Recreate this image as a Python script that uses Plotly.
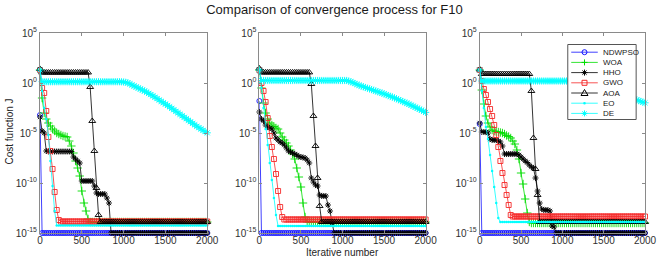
import plotly.graph_objects as go

# ---------------- data (log10 of best cost, sampled every 25 iterations) ----------------
ITERATIONS = list(range(0, 2001, 25))
ALGORITHMS = ["NDWPSO", "WOA", "HHO", "GWO", "AOA", "EO", "DE"]
X_TICKS = [0, 500, 1000, 1500, 2000]
Y_TICK_EXPONENTS = [-15, -10, -5, 0, 5]
Y_TICK_TEXT = ["10<sup>-15</sup>", "10<sup>-10</sup>", "10<sup>-5</sup>", "10<sup>0</sup>", "10<sup>5</sup>"]
TITLE = "Comparison of convergence process for F10"
X_LABEL = "Iterative number"
Y_LABEL = "Cost function J"

# ----- run 1 -----
P1_NDWPSO = [-3.2, -15, -15, -15, -15, -15, -15, -15, -15, -15,
             -15, -15, -15, -15, -15, -15, -15, -15, -15, -15,
             -15, -15, -15, -15, -15, -15, -15, -15, -15, -15,
             -15, -15, -15, -15, -15, -15, -15, -15, -15, -15,
             -15, -15, -15, -15, -15, -15, -15, -15, -15, -15,
             -15, -15, -15, -15, -15, -15, -15, -15, -15, -15,
             -15, -15, -15, -15, -15, -15, -15, -15, -15, -15,
             -15, -15, -15, -15, -15, -15, -15, -15, -15, -15,
             -15]
P1_WOA = [1.3, -1.5, -3.0, -3.6, -4.0, -4.3, -4.6, -4.8, -5.0, -5.1,
          -5.2, -5.3, -5.35, -5.4, -5.8, -6.3, -7.0, -7.8, -8.5, -9.3,
          -10.8, -12.0, -12.8, -13.6, -13.9, -13.9, -13.9, -13.9, -13.9, -13.9,
          -13.9, -13.9, -13.9, -13.9, -13.9, -13.9, -13.9, -13.9, -13.9, -13.9,
          -13.9, -13.9, -13.9, -13.9, -13.9, -13.9, -13.9, -13.9, -13.9, -13.9,
          -13.9, -13.9, -13.9, -13.9, -13.9, -13.9, -13.9, -13.9, -13.9, -13.9,
          -13.9, -13.9, -13.9, -13.9, -13.9, -13.9, -13.9, -13.9, -13.9, -13.9,
          -13.9, -13.9, -13.9, -13.9, -13.9, -13.9, -13.9, -13.9, -13.9, -13.9,
          -13.9]
P1_HHO = [-3.4, -4.8, -5.0, -6.8, -6.85, -6.85, -6.85, -6.85, -6.85, -6.85,
          -6.85, -6.85, -6.85, -6.85, -6.85, -6.85, -7.4, -7.6, -7.8, -8.0,
          -9.8, -9.8, -9.8, -9.8, -9.8, -9.8, -10.3, -11.0, -11.1, -11.1,
          -11.1, -11.1, -11.5, -12.0, -15, -15, -15, -15, -15, -15,
          -15, -15, -15, -15, -15, -15, -15, -15, -15, -15,
          -15, -15, -15, -15, -15, -15, -15, -15, -15, -15,
          -15, -15, -15, -15, -15, -15, -15, -15, -15, -15,
          -15, -15, -15, -15, -15, -15, -15, -15, -15, -15,
          -15]
P1_GWO = [1.3, -0.5, -1.0, -2.8, -5.4, -6.8, -8.6, -10.9, -12.7, -13.7,
          -13.85, -13.85, -13.85, -13.85, -13.85, -13.85, -13.85, -13.85, -13.85, -13.85,
          -13.85, -13.85, -13.85, -13.85, -13.85, -13.85, -13.85, -13.85, -13.85, -13.85,
          -13.85, -13.85, -13.85, -13.85, -13.85, -13.85, -13.85, -13.85, -13.85, -13.85,
          -13.85, -13.85, -13.85, -13.85, -13.85, -13.85, -13.85, -13.85, -13.85, -13.85,
          -13.85, -13.85, -13.85, -13.85, -13.85, -13.85, -13.85, -13.85, -13.85, -13.85,
          -13.85, -13.85, -13.85, -13.85, -13.85, -13.85, -13.85, -13.85, -13.85, -13.85,
          -13.85, -13.85, -13.85, -13.85, -13.85, -13.85, -13.85, -13.85, -13.85, -13.85,
          -13.85]
P1_AOA = [1.4, 1.05, 1.05, 1.05, 1.05, 1.05, 1.05, 1.05, 1.05, 1.05,
          1.05, 1.05, 1.05, 1.05, 1.05, 1.05, 1.05, 1.05, 1.05, 1.05,
          1.05, 1.05, 1.05, 1.05, -0.4, -3.8, -6.8, -10.5, -13.2, -13.9,
          -13.9, -13.9, -13.9, -13.9, -13.9, -13.9, -13.9, -13.9, -13.9, -13.9,
          -13.9, -13.9, -13.9, -13.9, -13.9, -13.9, -13.9, -13.9, -13.9, -13.9,
          -13.9, -13.9, -13.9, -13.9, -13.9, -13.9, -13.9, -13.9, -13.9, -13.9,
          -13.9, -13.9, -13.9, -13.9, -13.9, -13.9, -13.9, -13.9, -13.9, -13.9,
          -13.9, -13.9, -13.9, -13.9, -13.9, -13.9, -13.9, -13.9, -13.9, -13.9,
          -13.9]
P1_EO = [1.3, -0.8, -2.5, -3.6, -5.2, -7.8, -10.3, -12.8, -14.25, -14.25,
         -14.25, -14.25, -14.25, -14.25, -14.25, -14.25, -14.25, -14.25, -14.25, -14.25,
         -14.25, -14.25, -14.25, -14.25, -14.25, -14.25, -14.25, -14.25, -14.25, -14.25,
         -14.25, -14.25, -14.25, -14.25, -14.25, -14.25, -14.25, -14.25, -14.25, -14.25,
         -14.25, -14.25, -14.25, -14.25, -14.25, -14.25, -14.25, -14.25, -14.25, -14.25,
         -14.25, -14.25, -14.25, -14.25, -14.25, -14.25, -14.25, -14.25, -14.25, -14.25,
         -14.25, -14.25, -14.25, -14.25, -14.25, -14.25, -14.25, -14.25, -14.25, -14.25,
         -14.25, -14.25, -14.25, -14.25, -14.25, -14.25, -14.25, -14.25, -14.25, -14.25,
         -14.25]
P1_DE = [1.3, 0.13, 0.13, 0.13, 0.13, 0.13, 0.13, 0.13, 0.13, 0.13,
         0.13, 0.13, 0.13, 0.13, 0.13, 0.13, 0.13, 0.13, 0.13, 0.13,
         0.13, 0.13, 0.13, 0.13, 0.13, 0.13, 0.13, 0.13, 0.13, 0.13,
         0.13, 0.13, 0.13, 0.13, 0.13, 0.13, 0.13, 0.13, 0.13, 0.12,
         0.1, 0.07, 0.02, -0.08, -0.2, -0.3, -0.4, -0.5, -0.6, -0.7,
         -0.8, -0.91, -1.03, -1.16, -1.29, -1.42, -1.56, -1.7, -1.84, -1.98,
         -2.1, -2.24, -2.38, -2.53, -2.68, -2.83, -2.98, -3.13, -3.28, -3.43,
         -3.58, -3.73, -3.88, -4.03, -4.18, -4.33, -4.47, -4.6, -4.73, -4.86,
         -4.98]

# ----- run 2 -----
P2_NDWPSO = [-1.8, -15, -15, -15, -15, -15, -15, -15, -15, -15,
             -15, -15, -15, -15, -15, -15, -15, -15, -15, -15,
             -15, -15, -15, -15, -15, -15, -15, -15, -15, -15,
             -15, -15, -15, -15, -15, -15, -15, -15, -15, -15,
             -15, -15, -15, -15, -15, -15, -15, -15, -15, -15,
             -15, -15, -15, -15, -15, -15, -15, -15, -15, -15,
             -15, -15, -15, -15, -15, -15, -15, -15, -15, -15,
             -15, -15, -15, -15, -15, -15, -15, -15, -15, -15,
             -15]
P2_WOA = [1.3, -0.5, -2.0, -3.0, -3.6, -4.0, -4.2, -4.35, -4.5, -4.6,
          -5.0, -5.4, -5.7, -6.0, -6.3, -6.7, -7.1, -7.6, -8.5, -9.4,
          -10.4, -12.0, -13.4, -13.9, -13.9, -13.9, -13.9, -13.9, -13.9, -13.9,
          -13.9, -13.9, -13.9, -13.9, -13.9, -13.9, -13.9, -13.9, -13.9, -13.9,
          -13.9, -13.9, -13.9, -13.9, -13.9, -13.9, -13.9, -13.9, -13.9, -13.9,
          -13.9, -13.9, -13.9, -13.9, -13.9, -13.9, -13.9, -13.9, -13.9, -13.9,
          -13.9, -13.9, -13.9, -13.9, -13.9, -13.9, -13.9, -13.9, -13.9, -13.9,
          -13.9, -13.9, -13.9, -13.9, -13.9, -13.9, -13.9, -13.9, -13.9, -13.9,
          -13.9]
P2_HHO = [-2.9, -3.6, -3.8, -4.2, -4.4, -4.5, -4.6, -5.0, -5.5, -5.7,
          -5.9, -6.0, -6.2, -6.5, -6.8, -6.9, -7.0, -7.1, -7.2, -7.35,
          -7.4, -7.45, -7.5, -7.7, -8.0, -9.5, -9.9, -10.2, -10.3, -11.2,
          -11.3, -11.3, -11.3, -12.2, -12.8, -14.0, -15, -15, -15, -15,
          -15, -15, -15, -15, -15, -15, -15, -15, -15, -15,
          -15, -15, -15, -15, -15, -15, -15, -15, -15, -15,
          -15, -15, -15, -15, -15, -15, -15, -15, -15, -15,
          -15, -15, -15, -15, -15, -15, -15, -15, -15, -15,
          -15]
P2_GWO = [1.3, 0.0, -0.8, -1.9, -3.5, -5.3, -6.4, -7.6, -9.1, -10.8,
          -12.4, -13.4, -13.65, -13.65, -13.65, -13.65, -13.65, -13.65, -13.65, -13.65,
          -13.65, -13.65, -13.65, -13.65, -13.65, -13.65, -13.65, -13.65, -13.65, -13.65,
          -13.65, -13.65, -13.65, -13.65, -13.65, -13.65, -13.65, -13.65, -13.65, -13.65,
          -13.65, -13.65, -13.65, -13.65, -13.65, -13.65, -13.65, -13.65, -13.65, -13.65,
          -13.65, -13.65, -13.65, -13.65, -13.65, -13.65, -13.65, -13.65, -13.65, -13.65,
          -13.65, -13.65, -13.65, -13.65, -13.65, -13.65, -13.65, -13.65, -13.65, -13.65,
          -13.65, -13.65, -13.65, -13.65, -13.65, -13.65, -13.65, -13.65, -13.65, -13.65,
          -13.65]
P2_AOA = [1.45, 1.06, 1.06, 1.06, 1.06, 1.06, 1.06, 1.06, 1.06, 1.06,
          1.06, 1.06, 1.06, 1.06, 1.06, 1.06, 1.06, 1.06, 1.06, 1.06,
          1.06, 1.06, 1.06, 1.06, 1.06, -0.1, -3.3, -6.3, -9.5, -12.3,
          -13.9, -13.9, -13.9, -13.9, -13.9, -13.9, -13.9, -13.9, -13.9, -13.9,
          -13.9, -13.9, -13.9, -13.9, -13.9, -13.9, -13.9, -13.9, -13.9, -13.9,
          -13.9, -13.9, -13.9, -13.9, -13.9, -13.9, -13.9, -13.9, -13.9, -13.9,
          -13.9, -13.9, -13.9, -13.9, -13.9, -13.9, -13.9, -13.9, -13.9, -13.9,
          -13.9, -13.9, -13.9, -13.9, -13.9, -13.9, -13.9, -13.9, -13.9, -13.9,
          -13.9]
P2_EO = [1.3, -0.5, -2.5, -4.6, -6.2, -8.0, -9.7, -11.5, -13.2, -14.3,
         -14.3, -14.3, -14.3, -14.3, -14.3, -14.3, -14.3, -14.3, -14.3, -14.3,
         -14.3, -14.3, -14.3, -14.3, -14.3, -14.3, -14.3, -14.3, -14.3, -14.3,
         -14.3, -14.3, -14.3, -14.3, -14.3, -14.3, -14.3, -14.3, -14.3, -14.3,
         -14.3, -14.3, -14.3, -14.3, -14.3, -14.3, -14.3, -14.3, -14.3, -14.3,
         -14.3, -14.3, -14.3, -14.3, -14.3, -14.3, -14.3, -14.3, -14.3, -14.3,
         -14.3, -14.3, -14.3, -14.3, -14.3, -14.3, -14.3, -14.3, -14.3, -14.3,
         -14.3, -14.3, -14.3, -14.3, -14.3, -14.3, -14.3, -14.3, -14.3, -14.3,
         -14.3]
P2_DE = [1.3, 0.25, 0.25, 0.25, 0.25, 0.25, 0.25, 0.25, 0.25, 0.25,
         0.25, 0.25, 0.25, 0.25, 0.25, 0.25, 0.25, 0.25, 0.25, 0.25,
         0.25, 0.25, 0.25, 0.25, 0.25, 0.25, 0.25, 0.25, 0.25, 0.25,
         0.25, 0.25, 0.25, 0.25, 0.25, 0.25, 0.25, 0.25, 0.25, 0.25,
         0.25, 0.25, 0.25, 0.2, 0.12, 0.04, -0.05, -0.14, -0.23, -0.31,
         -0.38, -0.45, -0.52, -0.59, -0.66, -0.73, -0.8, -0.87, -0.94, -1.01,
         -1.09, -1.17, -1.25, -1.33, -1.41, -1.49, -1.58, -1.67, -1.76, -1.85,
         -1.94, -2.03, -2.12, -2.22, -2.32, -2.42, -2.52, -2.62, -2.72, -2.83,
         -2.94]

# ----- run 3 -----
P3_NDWPSO = [-4.1, -15, -15, -15, -15, -15, -15, -15, -15, -15,
             -15, -15, -15, -15, -15, -15, -15, -15, -15, -15,
             -15, -15, -15, -15, -15, -15, -15, -15, -15, -15,
             -15, -15, -15, -15, -15, -15, -15, -15, -15, -15,
             -15, -15, -15, -15, -15, -15, -15, -15, -15, -15,
             -15, -15, -15, -15, -15, -15, -15, -15, -15, -15,
             -15, -15, -15, -15, -15, -15, -15, -15, -15, -15,
             -15, -15, -15, -15, -15, -15, -15, -15, -15, -15,
             -15]
P3_WOA = [1.3, -0.7, -2.1, -3.3, -4.0, -4.4, -4.7, -4.8, -4.85, -4.9,
          -4.95, -5.0, -5.1, -5.25, -5.35, -5.5, -5.8, -6.1, -6.7, -7.6,
          -9.0, -10.1, -11.6, -13.0, -13.9, -14.0, -14.0, -14.0, -14.0, -14.0,
          -14.0, -14.0, -14.0, -14.0, -14.0, -14.0, -14.0, -14.0, -14.0, -14.0,
          -14.0, -14.0, -14.0, -14.0, -14.0, -14.0, -14.0, -14.0, -14.0, -14.0,
          -14.0, -14.0, -14.0, -14.0, -14.0, -14.0, -14.0, -14.0, -14.0, -14.0,
          -14.0, -14.0, -14.0, -14.0, -14.0, -14.0, -14.0, -14.0, -14.0, -14.0,
          -14.0, -14.0, -14.0, -14.0, -14.0, -14.0, -14.0, -14.0, -14.0, -14.0,
          -14.0]
P3_HHO = [-4.0, -4.9, -4.9, -4.9, -5.0, -5.6, -5.7, -5.7, -5.7, -5.8,
          -5.9, -6.3, -7.1, -7.1, -7.1, -7.1, -7.1, -7.1, -7.1, -7.2,
          -7.4, -7.6, -7.8, -7.95, -8.2, -8.4, -8.5, -9.5, -10.8, -12.0,
          -12.6, -12.7, -12.7, -12.7, -12.8, -14.3, -14.4, -15, -15, -15,
          -15, -15, -15, -15, -15, -15, -15, -15, -15, -15,
          -15, -15, -15, -15, -15, -15, -15, -15, -15, -15,
          -15, -15, -15, -15, -15, -15, -15, -15, -15, -15,
          -15, -15, -15, -15, -15, -15, -15, -15, -15, -15,
          -15]
P3_GWO = [1.3, 0.2, -0.6, -1.2, -1.9, -2.6, -3.3, -4.2, -5.2, -6.4,
          -7.8, -9.0, -10.2, -11.2, -12.2, -13.2, -13.35, -13.35, -13.35, -13.35,
          -13.35, -13.35, -13.35, -13.35, -13.35, -13.35, -13.35, -13.35, -13.35, -13.35,
          -13.35, -13.35, -13.35, -13.35, -13.35, -13.35, -13.35, -13.35, -13.35, -13.35,
          -13.35, -13.35, -13.35, -13.35, -13.35, -13.35, -13.35, -13.35, -13.35, -13.35,
          -13.35, -13.35, -13.35, -13.35, -13.35, -13.35, -13.35, -13.35, -13.35, -13.35,
          -13.35, -13.35, -13.35, -13.35, -13.35, -13.35, -13.35, -13.35, -13.35, -13.35,
          -13.35, -13.35, -13.35, -13.35, -13.35, -13.35, -13.35, -13.35, -13.35, -13.35,
          -13.35]
P3_AOA = [1.35, 0.9, 0.9, 0.9, 0.9, 0.9, 0.9, 0.9, 0.9, 0.9,
          0.9, 0.9, 0.9, 0.9, 0.9, 0.9, 0.9, 0.9, 0.9, 0.9,
          0.9, 0.9, 0.9, 0.9, 0.9, -0.8, -5.5, -8.6, -11.2, -13.9,
          -13.9, -13.9, -13.9, -13.9, -13.9, -13.9, -13.9, -13.9, -13.9, -13.9,
          -13.9, -13.9, -13.9, -13.9, -13.9, -13.9, -13.9, -13.9, -13.9, -13.9,
          -13.9, -13.9, -13.9, -13.9, -13.9, -13.9, -13.9, -13.9, -13.9, -13.9,
          -13.9, -13.9, -13.9, -13.9, -13.9, -13.9, -13.9, -13.9, -13.9, -13.9,
          -13.9, -13.9, -13.9, -13.9, -13.9, -13.9, -13.9, -13.9, -13.9, -13.9,
          -13.9]
P3_EO = [1.3, -0.8, -2.5, -4.4, -5.6, -7.2, -8.8, -10.4, -12.0, -13.5,
         -13.9, -13.9, -13.9, -13.9, -13.9, -13.9, -13.9, -13.9, -13.9, -13.9,
         -13.9, -13.9, -13.9, -13.9, -13.9, -13.9, -13.9, -13.9, -13.9, -13.9,
         -13.9, -13.9, -13.9, -13.9, -13.9, -13.9, -13.9, -13.9, -13.9, -13.9,
         -13.9, -13.9, -13.9, -13.9, -13.9, -13.9, -13.9, -13.9, -13.9, -13.9,
         -13.9, -13.9, -13.9, -13.9, -13.9, -13.9, -13.9, -13.9, -13.9, -13.9,
         -13.9, -13.9, -13.9, -13.9, -13.9, -13.9, -13.9, -13.9, -13.9, -13.9,
         -13.9, -13.9, -13.9, -13.9, -13.9, -13.9, -13.9, -13.9, -13.9, -13.9,
         -13.9]
P3_DE = [1.3, 0.2, 0.2, 0.2, 0.2, 0.2, 0.2, 0.2, 0.2, 0.2,
         0.2, 0.2, 0.2, 0.2, 0.2, 0.2, 0.2, 0.2, 0.2, 0.2,
         0.2, 0.2, 0.2, 0.2, 0.2, 0.2, 0.2, 0.2, 0.2, 0.2,
         0.2, 0.2, 0.2, 0.2, 0.2, 0.2, 0.2, 0.2, 0.2, 0.2,
         0.2, 0.2, 0.2, 0.2, 0.2, 0.2, 0.2, 0.2, 0.2, 0.15,
         0.1, 0.04, -0.02, -0.09, -0.16, -0.23, -0.3, -0.37, -0.44, -0.51,
         -0.58, -0.65, -0.72, -0.79, -0.86, -0.93, -1.0, -1.07, -1.14, -1.21,
         -1.28, -1.35, -1.42, -1.49, -1.56, -1.63, -1.7, -1.77, -1.84, -1.91,
         -1.98]

PANELS = [
    {"NDWPSO": P1_NDWPSO, "WOA": P1_WOA, "HHO": P1_HHO, "GWO": P1_GWO,
     "AOA": P1_AOA, "EO": P1_EO, "DE": P1_DE},
    {"NDWPSO": P2_NDWPSO, "WOA": P2_WOA, "HHO": P2_HHO, "GWO": P2_GWO,
     "AOA": P2_AOA, "EO": P2_EO, "DE": P2_DE},
    {"NDWPSO": P3_NDWPSO, "WOA": P3_WOA, "HHO": P3_HHO, "GWO": P3_GWO,
     "AOA": P3_AOA, "EO": P3_EO, "DE": P3_DE},
]

for panel in PANELS:
    for name, vals in panel.items():
        assert len(vals) == len(ITERATIONS), (name, len(vals))

# ---------------- styling ----------------
FONT = "Liberation Sans, Arial, Helvetica, sans-serif"
STYLE = {
    "NDWPSO": dict(color="#1010ff", symbol="circle-open", size=5),
    "WOA": dict(color="#00dd00", symbol="cross-thin-open", size=6),
    "HHO": dict(color="#000000", symbol="asterisk-open", size=5),
    "GWO": dict(color="#f52a2a", symbol="square-open", size=5),
    "AOA": dict(color="#000000", symbol="triangle-up-open", size=6),
    "EO": dict(color="#00ffff", symbol="circle", size=2.5),
    "DE": dict(color="#00ffff", symbol="asterisk-open", size=6),
}

W, H = 669, 260
ML, MR, MT, MB = 40, 14, 33, 27
PW = W - ML - MR
PH = H - MT - MB
PANEL_PX = [(40, 210), (263, 432), (487, 655)]


def px_x(p):
    return (p - ML) / PW


def px_y(p):
    return (H - MB - p) / PH


fig = go.Figure()

for k, panel in enumerate(PANELS):
    xa = "x" if k == 0 else f"x{k + 1}"
    ya = "y" if k == 0 else f"y{k + 1}"
    for name in ALGORITHMS:
        st = STYLE[name]
        vals = [10 ** v for v in panel[name]]
        if st["symbol"] == "circle":
            marker = dict(symbol="circle", size=st["size"], color=st["color"],
                          line=dict(width=0))
        else:
            marker = dict(symbol=st["symbol"], size=st["size"], color=st["color"],
                          line=dict(width=0.9, color=st["color"]))
        fig.add_trace(go.Scatter(
            x=ITERATIONS, y=vals, mode="lines+markers", name=name,
            line=dict(color=st["color"], width=0.8),
            marker=marker, showlegend=False, cliponaxis=False,
            xaxis=xa, yaxis=ya,
        ))

axis_common = dict(
    showline=True, linecolor="#8a8a8a", linewidth=1, mirror="ticks",
    ticks="inside", ticklen=3, tickcolor="#8a8a8a", showgrid=False,
    zeroline=False, tickfont=dict(family=FONT, size=10, color="#303030"),
)

layout = dict(
    width=W, height=H, margin=dict(l=ML, r=MR, t=MT, b=MB),
    paper_bgcolor="white", plot_bgcolor="white",
    font=dict(family=FONT, color="#262626"),
    title=dict(text=TITLE, x=0.5, xref="container", y=1 - 9.5 / H,
               yref="container", xanchor="center", yanchor="middle",
               font=dict(family=FONT, size=13, color="#1a1a1a")),
    showlegend=False,
)
for k, (a, b) in enumerate(PANEL_PX):
    sfx = "" if k == 0 else str(k + 1)
    layout["xaxis" + sfx] = dict(
        axis_common, domain=[px_x(a), px_x(b)], range=[0, 2000],
        tickmode="array", tickvals=X_TICKS, anchor="y" + sfx,
        ticklabelstandoff=-2,
    )
    layout["yaxis" + sfx] = dict(
        axis_common, type="log", domain=[0, 1], range=[-15, 5],
        tickmode="array", tickvals=[10 ** e for e in Y_TICK_EXPONENTS],
        ticktext=Y_TICK_TEXT, anchor="x" + sfx,
    )
fig.update_layout(**layout)

annotations = [
    dict(text=X_LABEL, xref="paper", yref="paper", x=px_x(347), y=px_y(252.5),
         showarrow=False, xanchor="center", yanchor="middle",
         font=dict(family=FONT, size=10, color="#262626")),
    dict(text=Y_LABEL, xref="paper", yref="paper", x=px_x(8), y=px_y(132),
         showarrow=False, xanchor="center", yanchor="middle", textangle=-90,
         font=dict(family=FONT, size=10, color="#262626")),
]

# ---------------- custom compact legend in panel 3 ----------------
shapes = [dict(type="rect", xref="paper", yref="paper",
               x0=px_x(576.5), x1=px_x(646), y0=px_y(119.5), y1=px_y(44.5),
               line=dict(color="#555555", width=1), fillcolor="white", layer="above")]
LEG_Y = [52.2, 62.4, 72.6, 82.8, 93.0, 103.2, 113.4]
LX0, LX1, LXM, LTX = 580, 607, 593.5, 610
PATHS = {
    "cross-thin-open": "M-3,0L3,0M0,-3L0,3",
    "asterisk-open": "M-3,0L3,0M0,-3L0,3M-2.1,-2.1L2.1,2.1M-2.1,2.1L2.1,-2.1",
    "triangle-up-open": "M-3.5,-2.5L3.5,-2.5L0,3.5Z",
}
for name, yy in zip(ALGORITHMS, LEG_Y):
    st = STYLE[name]
    yp = px_y(yy)
    shapes.append(dict(type="line", xref="paper", yref="paper",
                       x0=px_x(LX0), x1=px_x(LX1), y0=yp, y1=yp,
                       line=dict(color=st["color"], width=0.8), layer="above"))
    anchor = dict(xref="paper", yref="paper", xsizemode="pixel", ysizemode="pixel",
                  xanchor=px_x(LXM), yanchor=yp, layer="above")
    sym = st["symbol"]
    if sym == "circle-open":
        shapes.append(dict(anchor, type="circle", x0=-2.5, x1=2.5, y0=-2.5, y1=2.5,
                           line=dict(color=st["color"], width=1)))
    elif sym == "square-open":
        shapes.append(dict(anchor, type="rect", x0=-2.5, x1=2.5, y0=-2.5, y1=2.5,
                           line=dict(color=st["color"], width=1)))
    elif sym == "circle":
        shapes.append(dict(anchor, type="circle", x0=-1.3, x1=1.3, y0=-1.3, y1=1.3,
                           line=dict(color=st["color"], width=0), fillcolor=st["color"]))
    else:
        shapes.append(dict(anchor, type="path", path=PATHS[sym],
                           line=dict(color=st["color"], width=1)))
    annotations.append(dict(text=name, xref="paper", yref="paper",
                            x=px_x(LTX), y=yp, showarrow=False,
                            xanchor="left", yanchor="middle",
                            font=dict(family=FONT, size=8, color="#1a1a1a")))

fig.update_layout(shapes=shapes, annotations=annotations)
fig.write_html(
    "out.html",
    config={"displayModeBar": False},
    post_script="document.body.style.margin='0';document.body.style.overflow='hidden';",
)
